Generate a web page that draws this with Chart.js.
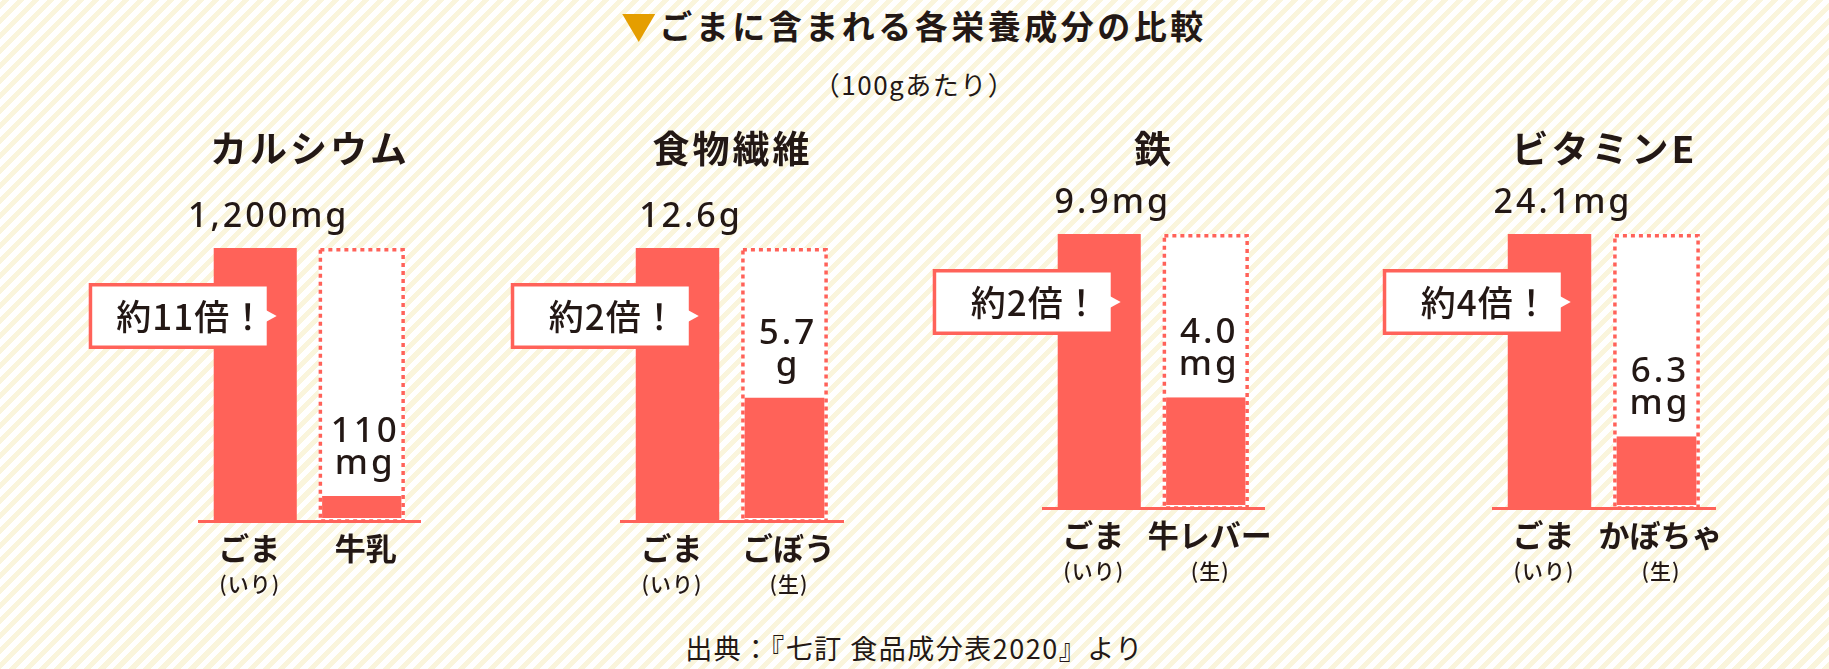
<!DOCTYPE html>
<html lang="ja">
<head>
<meta charset="utf-8">
<title>ごまに含まれる各栄養成分の比較</title>
<script src="https://cdn.jsdelivr.net/npm/chart.js@4.4.1/dist/chart.umd.min.js"></script>
<style>
  html, body { margin: 0; padding: 0; }
  body {
    width: 1829px;
    height: 669px;
    position: relative;
    overflow: hidden;
    font-family: "Noto Sans CJK JP", sans-serif;
    color: #231815;
    background: repeating-linear-gradient(-45deg, #faf5dc 0 5px, #ffffff 5px 10.6px);
  }
  .title {
    position: absolute; left: 0; top: 5px; width: 100%;
    text-align: center; font-size: 33px; font-weight: bold; line-height: 40px;
    letter-spacing: 3.5px;
  }
  .title .mark {
    display: inline-block; width: 33px; height: 28px; margin-right: 4px;
    background: #e59e00; clip-path: polygon(0 0, 100% 0, 50% 100%);
    vertical-align: -3px;
  }
  .sub {
    position: absolute; left: 0; top: 67px; width: 100%;
    text-align: center; font-size: 26px; line-height: 34px; letter-spacing: 1.5px;
  }
  .source {
    position: absolute; left: 0; top: 631px; width: 100%;
    text-align: center; font-size: 27px; line-height: 34px; letter-spacing: 1.5px;
  }
  canvas { position: absolute; left: 0; top: 0; }
</style>
</head>
<body>
<div class="title"><span class="mark"></span>ごまに含まれる各栄養成分の比較</div>
<div class="sub">（100gあたり）</div>
<div class="source">出典：『七訂 食品成分表2020』より</div>

<script>
// data
const panelTitles = ['カルシウム', '食物繊維', '鉄', 'ビタミンE'];
const units = ['mg', 'g', 'mg', 'mg'];
const decimals = [0, 1, 1, 1];
const sesameName = 'ごま';
const sesameNote = '(いり)';
const sesameValues = [1200, 12.6, 9.9, 24.1];
const compareNames = ['牛乳', 'ごぼう', '牛レバー', 'かぼちゃ'];
const compareNotes = ['', '(生)', '(生)', '(生)'];
const compareValues = [110, 5.7, 4.0, 6.3];
const ratioLabels = ['約11倍！', '約2倍！', '約2倍！', '約4倍！'];

// layout of each panel's plot area (pixels)
const panelAreas = [
  { left: 202, right: 415, top: 248, bottom: 521 },
  { left: 624, right: 838, top: 248, bottom: 521 },
  { left: 1046, right: 1259, top: 234, bottom: 508 },
  { left: 1496, right: 1710, top: 234, bottom: 508 }
];

const W = 1829, H = 669;
const RED = '#ff6259';
const INK = '#231815';
const JP = '"Noto Sans CJK JP", sans-serif';
const NUM = '"Noto Sans", "Noto Sans CJK JP", sans-serif';

function fmt(v, d) {
  return v.toLocaleString('en-US', { minimumFractionDigits: d, maximumFractionDigits: d });
}

function text(ctx, str, x, y, font, spacing, baseline) {
  ctx.font = font;
  ctx.letterSpacing = spacing + 'px';
  ctx.textAlign = 'center';
  ctx.textBaseline = baseline || 'alphabetic';
  ctx.fillText(str, x + spacing / 2, y);
}

// draws dotted outline, baseline, callout and all labels of one panel
const panelDecor = {
  id: 'panelDecor',
  afterDatasetsDraw(chart, args, opts) {
    const i = opts.index;
    const ctx = chart.ctx;
    const area = chart.chartArea;
    const outline = chart.getDatasetMeta(0).data[1];
    const fill = chart.getDatasetMeta(1).data[1];
    const bar = chart.getDatasetMeta(2).data[0];

    ctx.save();

    // dotted box around the comparison bar
    const ow = outline.width;
    ctx.strokeStyle = RED;
    ctx.lineWidth = 3.5;
    ctx.setLineDash([4, 4]);
    ctx.strokeRect(outline.x - ow / 2 + 1.75, outline.y + 1.75, ow - 3.5, outline.base - outline.y - 1.75);
    ctx.setLineDash([]);

    // base line
    ctx.fillStyle = RED;
    ctx.fillRect(area.left - 4, area.bottom - 1, area.right - area.left + 10, 3);

    // callout box
    const barLeft = bar.x - bar.width / 2;
    const bx = barLeft - 125, by = bar.y + 35, bw = 178, bh = 66;
    ctx.fillStyle = RED;
    ctx.fillRect(bx, by, bw, bh);
    ctx.fillStyle = '#ffffff';
    ctx.fillRect(bx + 3.5, by + 3.5, bw - 3.5, bh - 7);
    ctx.beginPath();
    ctx.moveTo(bx + bw - 1, by + bh / 2 - 6);
    ctx.lineTo(bx + bw + 10, by + bh / 2);
    ctx.lineTo(bx + bw - 1, by + bh / 2 + 6);
    ctx.closePath();
    ctx.fill();

    ctx.fillStyle = INK;
    text(ctx, ratioLabels[i], bx + bw / 2 + 13, by + bh / 2 + 1, '500 35px ' + JP, 1, 'middle');

    // panel title
    text(ctx, panelTitles[i], (area.left + area.right) / 2, 149, 'bold 37px ' + JP, 3, 'middle');

    // value over the sesame bar
    text(ctx, fmt(sesameValues[i], decimals[i]) + units[i], bar.x + 12, bar.y - 21, '500 34px ' + NUM, 3);

    // value inside the dotted box
    text(ctx, fmt(compareValues[i], decimals[i]), fill.x + 2, fill.y - 54, '500 35px ' + NUM, 3);
    text(ctx, units[i], fill.x + 2, fill.y - 22, '500 35px ' + NUM, 3);

    // category labels
    text(ctx, sesameName, bar.x - 6, area.bottom + 27, 'bold 31px ' + JP, 0, 'middle');
    text(ctx, sesameNote, bar.x - 6, area.bottom + 63, '500 21px ' + JP, 1, 'middle');
    text(ctx, compareNames[i], outline.x + 4, area.bottom + 27, 'bold 31px ' + JP, 0, 'middle');
    if (compareNotes[i]) {
      text(ctx, compareNotes[i], outline.x + 4, area.bottom + 63, '500 21px ' + JP, 1, 'middle');
    }

    ctx.restore();
  }
};

panelAreas.forEach((a, i) => {
  const canvas = document.createElement('canvas');
  canvas.width = W;
  canvas.height = H;
  canvas.style.width = W + 'px';
  canvas.style.height = H + 'px';
  document.body.appendChild(canvas);

  new Chart(canvas, {
    type: 'bar',
    data: {
      labels: [sesameName, compareNames[i]],
      datasets: [
        {
          label: 'outline',
          data: [null, sesameValues[i]],
          backgroundColor: '#ffffff',
          barPercentage: 0.81,
          categoryPercentage: 1,
          order: 3
        },
        {
          label: compareNames[i],
          data: [null, compareValues[i]],
          backgroundColor: RED,
          borderColor: '#ffffff',
          borderWidth: { left: 3.5, right: 3.5, bottom: 3, top: 0 },
          borderSkipped: false,
          barPercentage: 0.81,
          categoryPercentage: 1,
          order: 2
        },
        {
          label: sesameName,
          data: [sesameValues[i], null],
          backgroundColor: RED,
          barPercentage: 0.78,
          categoryPercentage: 1,
          order: 1
        }
      ]
    },
    options: {
      responsive: false,
      animation: false,
      events: [],
      layout: { padding: { left: a.left, right: W - a.right, top: a.top, bottom: H - a.bottom } },
      scales: {
        x: { display: false, stacked: true },
        y: { display: false, min: 0, max: sesameValues[i] }
      },
      plugins: {
        legend: { display: false },
        tooltip: { enabled: false },
        panelDecor: { index: i }
      }
    },
    plugins: [panelDecor]
  });
});
</script>
</body>
</html>
